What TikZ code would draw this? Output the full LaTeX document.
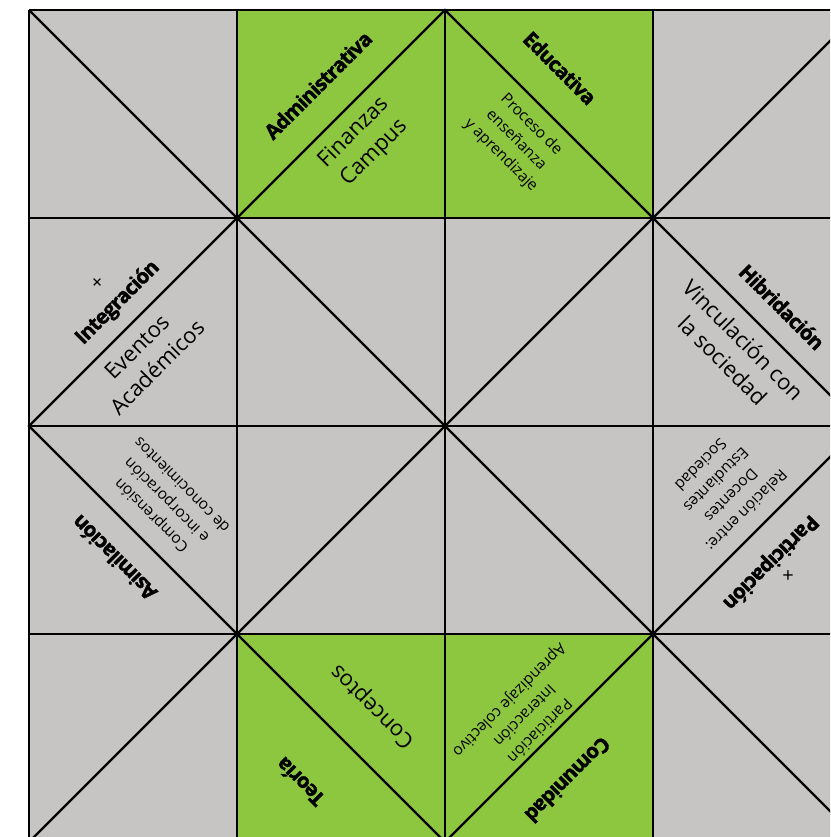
\documentclass[tikz,border=0pt]{standalone}
\usepackage{fontspec}
\setmainfont{Open Sans}
\newfontfamily\negrita[BoldFeatures={FakeBold=1.6,LetterSpace=-4}]{Open Sans}

\definecolor{gris}{RGB}{199,197,196}
\definecolor{verde}{RGB}{141,198,63}

\begin{document}
\begin{tikzpicture}[x=1pt,y=-1pt,
        titulo/.style={font=\fontsize{20.5}{24}\negrita\bfseries, inner sep=0pt},
        texto/.style={font=\fontsize{22}{29}\selectfont, align=center, inner sep=0pt},
        textito/.style={font=\fontsize{15.5}{21.5}\selectfont, align=center, inner sep=0pt},
        mas/.style={font=\fontsize{20}{20}\selectfont, inner sep=0pt}]
            \useasboundingbox (0,0) rectangle (830,837);
            \clip (0,0) rectangle (830,837);
            % fondo
            \fill[gris] (29,10) rectangle (861,842);
            \fill[verde] (237,10) rectangle (653,218);
            \fill[verde] (237,634) rectangle (653,842);
            % reticula
            \foreach \i in {0,...,4}{
                \draw[line width=2.2pt] (29+208*\i,10) -- (29+208*\i,842);
                \draw[line width=2.2pt] (29,10+208*\i) -- (861,10+208*\i);
            }
            \draw[line width=2.2pt] (29,10) -- (861,842);
            \draw[line width=2.2pt] (29,842) -- (861,10);
            \draw[line width=2.2pt] (445,10) -- (861,426) -- (445,842) -- (29,426) -- cycle;
            % arriba
            \node[titulo, rotate=45] (admin) at (318,85) {Administrativa};
            \node[texto, rotate=45] (finan) at (364,143) {Finanzas\\Campus};
            \node[titulo, rotate=-45] (educ) at (560,68) {Educativa};
            \node[textito, rotate=-45] (proc) at (516,140) {Proceso de\\enseñanza\\y aprendizaje};
            % izquierda
            \node[mas, rotate=45] (masI) at (98,283) {+};
            \node[titulo, rotate=45] (integ) at (118,303) {Integración};
            \node[texto, rotate=45] (event) at (147,357) {Eventos\\Académicos};
            \node[titulo, rotate=135] (asim) at (114,558) {Asimilación};
            \node[textito, rotate=135] (compr) at (166,501) {Comprensión\\e incorporación\\de conocimientos};
            % derecha
            \node[titulo, rotate=-45] (hibr) at (782,307) {Hibridación};
            \node[texto, rotate=-45] (vinc) at (733,350) {Vinculación con\\la sociedad};
            \node[titulo, rotate=225] (partic) at (770,562) {Participación};
            \node[mas] (masP) at (788,577) {+};
            \node[textito, rotate=225] (relac) at (724,488) {Relación entre:\\Docentes\\Estudiantes\\Sociedad};
            % abajo
            \node[titulo, rotate=135] (teor) at (300,782) {Teoría};
            \node[texto, rotate=135] (conc) at (373,706) {Conceptos};
            \node[titulo, rotate=225] (comun) at (568,780) {Comunidad};
            \node[textito, rotate=225] (aprend) at (524,715) {Particiación\\Interacción\\Aprendizaje colectivo};
\end{tikzpicture}
\end{document}
